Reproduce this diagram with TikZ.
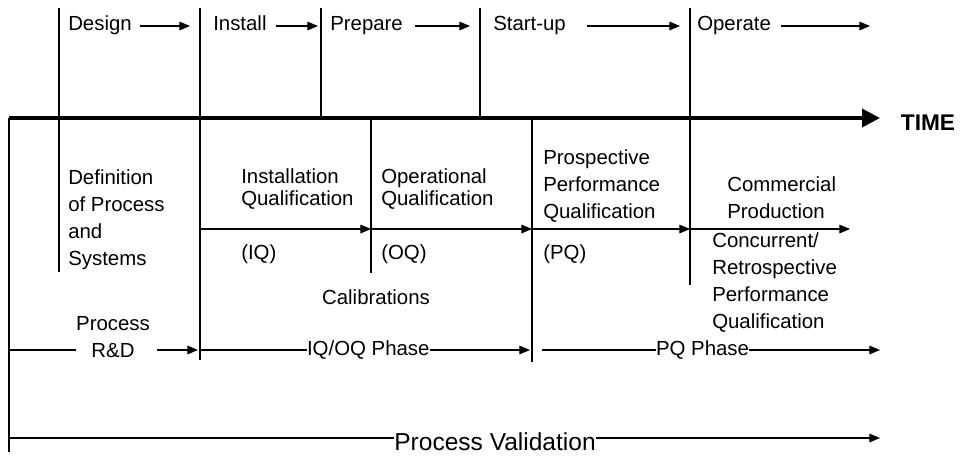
\documentclass[tikz,border=0pt]{standalone}
\usepackage{fontspec}
\setmainfont{Liberation Sans}
\usetikzlibrary{arrows.meta, positioning}

\begin{document}
\begin{tikzpicture}[
    x=0.75pt, y=-0.75pt,
    txt/.style={inner sep=0pt, font=\fontsize{15.3}{20.25}\selectfont, align=left, anchor=west},
    tight/.style={txt, font=\fontsize{15.3}{16.5}\selectfont},
    act/.style={txt, text height=0.72em, text depth=0.1em},
    phase/.style={fill=white, inner sep=0pt, font=\fontsize{15.3}{18}\selectfont},
    arrow/.style={-{Triangle[length=8pt,width=6.5pt]}, line width=0.8pt},
    divider/.style={line width=0.8pt},
    axis/.style={-{Triangle[length=13.5pt,width=13.5pt]}, line width=2.8pt}
]
\useasboundingbox (0,0) rectangle (962,455);

% Dividers
\foreach \x/\ya/\yb in {9/118/452, 59/8/272, 200/8/360, 321/8/118, 371/118/273, 480/8/118, 690/8/285}
    \draw[divider] (\x,\ya) -- (\x,\yb);
\draw[line width=1.5pt] (532,118) -- (532,362);

% Time axis
\coordinate (t0) at (9,118);
\coordinate (t1) at (880,118);
\draw[axis] (t0) -- (t1);
\node[inner sep=0pt, font=\bfseries\fontsize{17}{18}\selectfont] (time) at (928,122.5) {TIME};

% Activities
\node[act] (design)  at (68,26)  {Design};
\node[act] (install) at (213,26) {Install};
\node[act] (prepare) at (330,26) {Prepare};
\node[act] (startup) at (493,26) {Start-up};
\node[act] (operate) at (697,26) {Operate};
\coordinate (design-end)  at (190,26);
\coordinate (install-end) at (318,26);
\coordinate (prepare-end) at (470,26);
\coordinate (startup-end) at (680,26);
\coordinate (operate-end) at (870,26);
\foreach \n/\g in {design/6, install/7, prepare/9, startup/16, operate/7}
    \draw[arrow, shorten <=\g pt] (\n.east) -- (\n-end);

% Qualification stages
\node[txt] (defn) at (68,219.5) {Definition\\of Process\\and\\Systems};
\node[tight] (iq) at (241,188.6) {Installation\\Qualification};
\node[tight] (oq) at (381,188.6) {Operational\\Qualification};
\node[txt] (pq) at (543,185.7) {Prospective\\Performance\\Qualification};
\node[txt] (comm) at (727,197.3) {Commercial\\Production};
\node[txt] (iq-abbr) at (241,254) {(IQ)};
\node[txt] (oq-abbr) at (381,254) {(OQ)};
\node[txt] (pq-abbr) at (543,254) {(PQ)};
\node[txt] (conc) at (712,283) {Concurrent/\\Retrospective\\Performance\\Qualification};
\node[txt, anchor=center] (calib) at (376,297) {Calibrations};

\coordinate (q0) at (200,229);
\coordinate (q1) at (371,229);
\coordinate (q2) at (532,229);
\coordinate (q3) at (690,229);
\coordinate (q4) at (850,229);
\foreach \a/\b in {q0/q1, q1/q2, q2/q3, q3/q4}
    \draw[arrow] (\a) -- (\b);

% Phases
\node[txt, align=center, anchor=center] (prd) at (113,336.6) {Process\\R\&D};
\coordinate (rd0) at (9,350);
\coordinate (rd1) at (198,350);
\draw[divider] (rd0) -- (rd0 -| prd.west);
\draw[arrow, shorten <=5pt] (rd0 -| prd.east) -- (rd1);

\coordinate (iqoq0) at (200,350);
\coordinate (iqoq1) at (530,350);
\draw[arrow] (iqoq0) -- node[phase, pos=0.51] (iqoq) {IQ/OQ Phase} (iqoq1);

\coordinate (pq0) at (542,350);
\coordinate (pq1) at (880,350);
\draw[arrow] (pq0) -- node[phase, pos=0.475] (pqph) {PQ Phase} (pq1);

% Process validation
\coordinate (pv0) at (9,438);
\coordinate (pv1) at (880,438);
\draw[arrow] (pv0) -- node[phase, pos=0.558, yshift=-3pt, font=\fontsize{18.4}{20}\selectfont] (pv) {Process Validation} (pv1);
\end{tikzpicture}
\end{document}
